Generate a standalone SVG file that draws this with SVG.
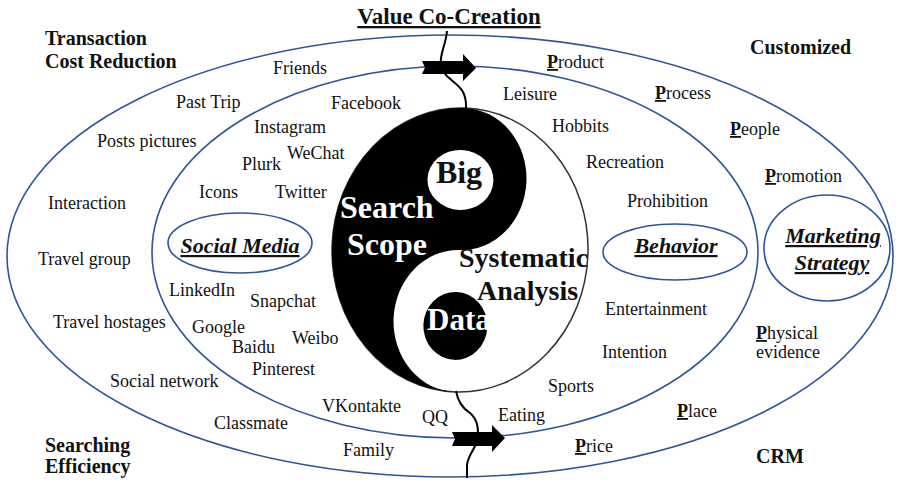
<svg xmlns="http://www.w3.org/2000/svg" width="897" height="480" viewBox="0 0 897 480">
<style>
  text { font-family: "Liberation Serif", "Times New Roman", serif; fill: #111; }
  .t { font-size: 18px; }
  .b { font-weight: bold; }
  .corner { font-size: 20px; font-weight: bold; }
  .p { font-weight: bold; text-decoration: underline; }
  .lbl { font-size: 22px; font-weight: bold; font-style: italic; text-decoration: underline; text-anchor: middle; }
  .ring { fill: none; stroke: #2F5597; stroke-width: 1.6; }
  .wave { fill: none; stroke: #000; stroke-width: 2; }
  .yy { font-weight: bold; }
</style>
<rect width="897" height="480" fill="#fff"/>

<g id="outer-ring">
  <ellipse class="ring" cx="450" cy="256" rx="443" ry="221"/>
</g>
<g id="inner-ring">
  <ellipse class="ring" cx="455" cy="252" rx="303" ry="186"/>
</g>

<g id="title">
  <text x="449" y="24" font-size="23" class="b" text-anchor="middle" style="text-decoration: underline">Value Co-Creation</text>
</g>

<g id="corners">
  <text class="corner" x="45" y="45">Transaction</text>
  <text class="corner" x="45" y="68">Cost Reduction</text>
  <text class="corner" x="750" y="54">Customized</text>
  <text class="corner" x="45" y="452">Searching</text>
  <text class="corner" x="45" y="473">Efficiency</text>
  <text class="corner" x="756" y="463">CRM</text>
</g>

<g id="yin-yang" transform="rotate(2 460 250)">
  <ellipse cx="460" cy="250" rx="128" ry="142" fill="#fff" stroke="#333" stroke-width="1.5"/>
  <path d="M460,108 A128,142 0 0 0 460,392 A64,71 0 0 1 460,250 A64,71 0 0 0 460,108 Z" fill="#000"/>
  <ellipse cx="458" cy="180" rx="33" ry="30" fill="#fff"/>
  <ellipse cx="458" cy="326" rx="32" ry="34" fill="#000"/>
</g>
<g id="yin-yang-text">
  <text class="yy" x="459" y="183" font-size="32" text-anchor="middle">Big</text>
  <text class="yy" x="340" y="218" font-size="32" style="fill:#fff">Search</text>
  <text class="yy" x="347" y="255" font-size="32" style="fill:#fff">Scope</text>
  <text class="yy" x="459" y="267" font-size="28">Systematic</text>
  <text class="yy" x="477" y="300" font-size="28">Analysis</text>
  <text class="yy" x="427" y="330" font-size="31" style="fill:#fff">Data</text>
</g>

<g id="connectors">
  <path class="wave" d="M447,31 C446,45 439,55 441,65 C443,78 458,82 463,92 C467,100 466,106 466,110"/>
  <polygon points="422,61 463,61 463,54 476,68 463,81 463,74 422,74 425,67.5" fill="#000"/>
  <path class="wave" d="M456,391 C458,402 462,408 470,413 C478,420 479,430 477,440 C475,450 468,455 467,465 L467,478"/>
  <polygon points="452,432 492,432 492,425 505,438 492,452 492,446 452,446 455,439" fill="#000"/>
</g>

<g id="social-media">
  <ellipse class="ring" cx="240" cy="243" rx="72" ry="30"/>
  <text class="lbl" x="240" y="253">Social Media</text>
</g>
<g id="behavior">
  <ellipse class="ring" cx="675" cy="252" rx="72" ry="28"/>
  <text class="lbl" x="676" y="253">Behavior</text>
</g>
<g id="marketing-strategy">
  <ellipse class="ring" cx="827" cy="248" rx="63" ry="53"/>
  <text class="lbl" x="833" y="243">Marketing</text>
  <text class="lbl" x="832" y="270">Strategy</text>
</g>

<g id="left-items">
  <text class="t" x="273" y="74">Friends</text>
  <text class="t" x="176" y="108">Past Trip</text>
  <text class="t" x="331" y="109">Facebook</text>
  <text class="t" x="254" y="133">Instagram</text>
  <text class="t" x="97" y="147">Posts pictures</text>
  <text class="t" x="287" y="159">WeChat</text>
  <text class="t" x="242" y="170">Plurk</text>
  <text class="t" x="199" y="198">Icons</text>
  <text class="t" x="275" y="198">Twitter</text>
  <text class="t" x="48" y="209">Interaction</text>
  <text class="t" x="38" y="265">Travel group</text>
  <text class="t" x="169" y="296">LinkedIn</text>
  <text class="t" x="250" y="307">Snapchat</text>
  <text class="t" x="53" y="328">Travel hostages</text>
  <text class="t" x="192" y="333">Google</text>
  <text class="t" x="292" y="344">Weibo</text>
  <text class="t" x="232" y="353">Baidu</text>
  <text class="t" x="252" y="375">Pinterest</text>
  <text class="t" x="110" y="387">Social network</text>
  <text class="t" x="322" y="412">VKontakte</text>
  <text class="t" x="422" y="423">QQ</text>
  <text class="t" x="214" y="429">Classmate</text>
  <text class="t" x="343" y="456">Family</text>
</g>

<g id="right-items">
  <text class="t" x="503" y="100">Leisure</text>
  <text class="t" x="552" y="132">Hobbits</text>
  <text class="t" x="586" y="168">Recreation</text>
  <text class="t" x="627" y="207">Prohibition</text>
  <text class="t" x="605" y="315">Entertainment</text>
  <text class="t" x="602" y="358">Intention</text>
  <text class="t" x="548" y="392">Sports</text>
  <text class="t" x="498" y="421">Eating</text>
</g>

<g id="seven-p">
  <text class="t" x="547" y="68"><tspan class="p">P</tspan>roduct</text>
  <text class="t" x="655" y="99"><tspan class="p">P</tspan>rocess</text>
  <text class="t" x="730" y="135"><tspan class="p">P</tspan>eople</text>
  <text class="t" x="765" y="182"><tspan class="p">P</tspan>romotion</text>
  <text class="t" x="756" y="339"><tspan class="p">P</tspan>hysical</text>
  <text class="t" x="756" y="358">evidence</text>
  <text class="t" x="677" y="417"><tspan class="p">P</tspan>lace</text>
  <text class="t" x="575" y="452"><tspan class="p">P</tspan>rice</text>
</g>
</svg>
